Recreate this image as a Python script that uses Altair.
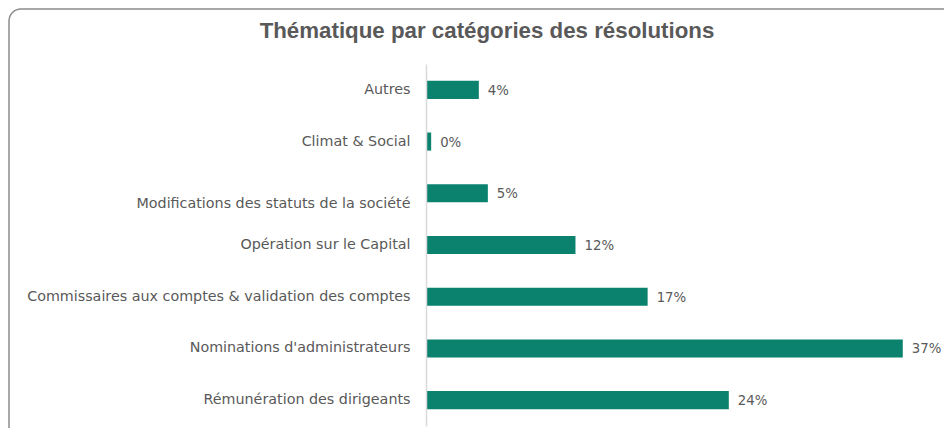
import altair as alt
import pandas as pd

categories = [
    "Autres",
    "Climat & Social",
    "Modifications des statuts de la société",
    "Opération sur le Capital",
    "Commissaires aux comptes & validation des comptes",
    "Nominations d'administrateurs",
    "Rémunération des dirigeants",
]
values = [4.1, 0.4, 4.8, 11.6, 17.2, 37.0, 23.5]
labels = ["4%", "0%", "5%", "12%", "17%", "37%", "24%"]
title_text = ["Thématique par catégories des résolutions"]

df = pd.DataFrame({"cat": categories, "val": values, "lab": labels})

GREEN = "#0a826e"
GREY = "#595959"
LABEL_FONT = "DejaVu Sans"

W, H = 518, 362
PL, PT, PB = 418, 56, 2

y_enc = alt.Y(
    "cat:N",
    sort=categories,
    scale=alt.Scale(paddingInner=0.65, paddingOuter=0.325),
    axis=alt.Axis(
        title=None,
        ticks=False,
        tickSize=0,
        domainColor="#d9d9d9",
        domainWidth=1.5,
        labelPadding=16,
        labelFont=LABEL_FONT,
        labelFontSize=14.3,
        labelColor=GREY,
        labelLimit=500,
        zindex=1,
        labelOffset=alt.condition(
            "datum.value == 'Modifications des statuts de la société'",
            alt.value(11),
            alt.value(0),
        ),
    ),
)
x_enc = alt.X("val:Q", scale=alt.Scale(domain=[0, 40.2], nice=False), axis=None)

frame = alt.Chart(pd.DataFrame({"f": [0]})).mark_rect(
    fill="white", fillOpacity=0, stroke="#8c8c8c", strokeWidth=1.5, cornerRadius=12
).encode(
    x=alt.value(-PL + 1),
    x2=alt.value(W + 30),
    y=alt.value(-PT + 1),
    y2=alt.value(H + PB + 20),
)

title = alt.Chart(pd.DataFrame({"t": title_text})).mark_text(
    font="Liberation Sans", fontSize=22.3, fontWeight="bold", color=GREY,
    align="center", baseline="alphabetic"
).encode(x=alt.value(487 - 8 - PL), y=alt.value(38 - 8 - PT), text="t:N")

bars = alt.Chart(df).mark_bar(color=GREEN).encode(x=x_enc, y=y_enc)

text = alt.Chart(df).mark_text(
    align="left", baseline="middle", dx=9, dy=1,
    font=LABEL_FONT, fontSize=13.3, color=GREY
).encode(x=x_enc, y=alt.Y("cat:N", sort=categories), text="lab:N")

chart = alt.layer(frame, title, bars, text).properties(
    width=W,
    height=H,
    padding={"left": PL, "top": PT, "right": 0, "bottom": PB},
    autosize=alt.AutoSizeParams(type="none"),
).configure_view(stroke=None)

chart.save("out.html", embed_options={"renderer": "svg", "actions": False})
